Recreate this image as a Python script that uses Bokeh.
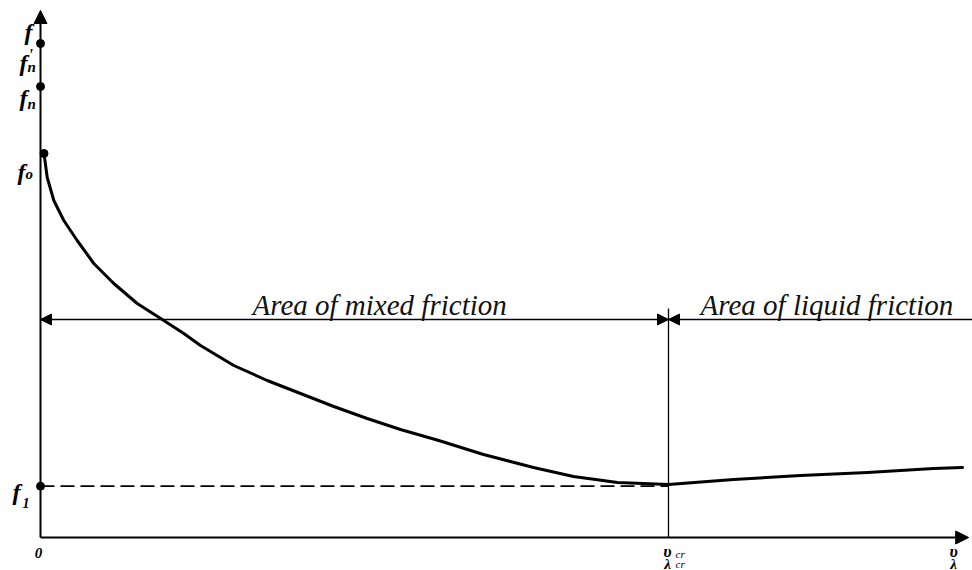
from bokeh.plotting import figure
from bokeh.models import Range1d, Arrow, NormalHead
from bokeh.core.properties import value
from bokeh.embed import file_html
from bokeh.resources import INLINE

# ---- data (v in units of v_cr, f in arbitrary friction units) ----
v_curve = [0.0056, 0.0107, 0.0212, 0.0371, 0.0584, 0.0849, 0.1167, 0.1540,
           0.1963, 0.2282, 0.2548, 0.3078, 0.3610, 0.4140, 0.4670, 0.5202, 0.5732,
           0.6342, 0.7054, 0.7850, 0.8487, 0.9188, 1.0000, 1.1035, 1.2102, 1.3169,
           1.4220, 1.4682]
f_curve = [3.84, 3.60, 3.37, 3.17, 2.97, 2.74, 2.54, 2.34,
           2.17, 2.04, 1.92, 1.72, 1.57, 1.44, 1.31, 1.19, 1.08,
           0.97, 0.83, 0.70, 0.61, 0.55, 0.53, 0.58, 0.62, 0.65,
           0.69, 0.70]

f_levels = [4.94, 4.51, 3.84, 0.513]          # f'_n, f_n, f_o, f_1
f_dot_v = [0.0, 0.0, 0.0056, 0.0]
v_cr = 1.0
f_boundary = 2.18                             # level of the region arrows
v_axis_end = 1.478
f_axis_end = 5.27

FONT = value('"Liberation Serif"')

p = figure(width=972, height=570, output_backend="svg", toolbar_location=None,
           x_range=Range1d(-40 / 628, 932 / 628), y_range=Range1d(-0.33, 5.37),
           x_axis_type=None, y_axis_type=None, min_border=0,
           min_border_left=0, min_border_right=0, min_border_top=0, min_border_bottom=0)
p.grid.visible = False
p.outline_line_color = None
p.background_fill_color = "white"
p.border_fill_color = "white"

# axes with arrows
p.add_layout(Arrow(x_start=0, y_start=0, x_end=0, y_end=f_axis_end, line_width=2,
                   end=NormalHead(size=13, fill_color="black", line_color="black")))
p.add_layout(Arrow(x_start=0, y_start=0, x_end=v_axis_end, y_end=0, line_width=2,
                   end=NormalHead(size=13, fill_color="black", line_color="black")))

# region boundary
p.segment(x0=[v_cr], y0=[0], x1=[v_cr], y1=[f_boundary + 0.11], line_width=1.3, color="black")
p.segment(x0=[0], y0=[f_boundary], x1=[1.6], y1=[f_boundary], line_width=1.6, color="black")
p.add_layout(Arrow(x_start=0.5, y_start=f_boundary, x_end=0, y_end=f_boundary, line_width=0,
                   line_alpha=0, end=NormalHead(size=11, fill_color="black", line_color="black")))
p.add_layout(Arrow(x_start=0.5, y_start=f_boundary, x_end=v_cr, y_end=f_boundary, line_width=0,
                   line_alpha=0, end=NormalHead(size=11, fill_color="black", line_color="black")))
p.add_layout(Arrow(x_start=1.4, y_start=f_boundary, x_end=v_cr, y_end=f_boundary, line_width=0,
                   line_alpha=0, end=NormalHead(size=11, fill_color="black", line_color="black")))

# f_1 dashed reference
p.segment(x0=[0], y0=[f_levels[3]], x1=[v_cr], y1=[f_levels[3]], line_width=1.8,
          color="black", line_dash="14 6")

# Stribeck curve
p.line(v_curve, f_curve, line_width=3, color="black", line_join="round", line_cap="round")

# dots
p.scatter(f_dot_v, f_levels, size=8, color="black")

# region texts
p.text(x=[0.3376], y=[2.33], text=["Area of mixed friction"], text_font=FONT,
       text_font_style="italic", text_font_size="29px", text_baseline="alphabetic",
       text_align="left", color="#111111")
p.text(x=[1.051], y=[2.33], text=["Area of liquid friction"], text_font=FONT,
       text_font_style="italic", text_font_size="29px", text_baseline="alphabetic",
       text_align="left", color="#111111")

def lab(x, y, t, dx, dy, size, align="left", style="bold italic"):
    p.text(x=[x], y=[y], text=[t], x_offset=dx, y_offset=dy, text_font=FONT,
           text_font_style=style, text_font_size=size, text_baseline="alphabetic",
           text_align=align, color="black")

# y-axis labels
lab(0, f_axis_end, "f", -8, 21, "24px", "right")
lab(0, f_levels[0], "f", -13, 19, "24px", "right")
lab(0, f_levels[0], "'", -12, 11, "16px")
lab(0, f_levels[0], "n", -13, 23, "15px")
lab(0, f_levels[1], "f", -13, 11, "24px", "right")
lab(0, f_levels[1], "n", -13, 17, "15px")
lab(0, f_levels[2], "f", -15, 18, "24px", "right")
lab(0, f_levels[2], "o", -15, 20, "15px")
lab(0, f_levels[3], "f", -20, 6, "24px", "right")
lab(0, f_levels[3], "1", -18, 17, "14px")

# x-axis labels
lab(0, 0, "0", -2, 15, "15px", "center")
lab(v_cr, 0, "υ", -1, 14, "17px", "center")
lab(v_cr, 0, "cr", 7, 16, "11px", "left", "italic")
lab(v_cr, 0, "λ", -1, 26, "15px", "center")
lab(v_cr, 0, "cr", 7, 26, "11px", "left", "italic")
lab(v_axis_end, 0, "υ", -15, 14, "17px", "center")
lab(v_axis_end, 0, "λ", -15, 26, "15px", "center")

open("out.html", "w").write(file_html(p, INLINE))
